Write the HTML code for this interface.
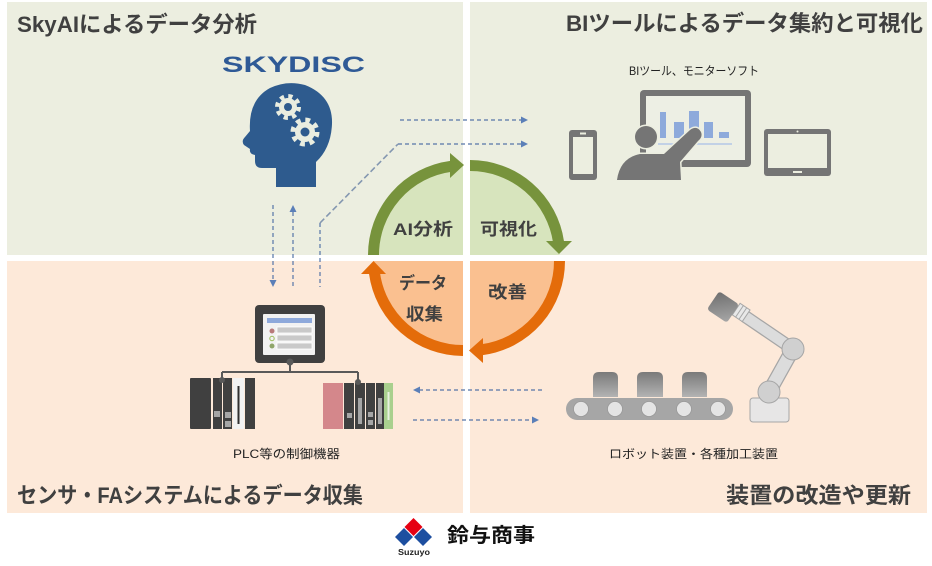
<!DOCTYPE html>
<html><head><meta charset="utf-8">
<style>
html,body{margin:0;padding:0;background:#fff;}
svg{display:block;}
text{font-family:"Liberation Sans","Noto Sans CJK JP",sans-serif;}
</style></head>
<body>
<svg width="932" height="566" viewBox="0 0 932 566" xmlns="http://www.w3.org/2000/svg">
<defs>
<linearGradient id="box" x1="0" y1="0" x2="0" y2="1">
<stop offset="0" stop-color="#7a7a7a"/><stop offset="1" stop-color="#b3b3b3"/>
</linearGradient>
<linearGradient id="grip" x1="0" y1="0" x2="1" y2="1">
<stop offset="0" stop-color="#6e6e6e"/><stop offset="1" stop-color="#a8a8a8"/>
</linearGradient>
</defs>
<rect width="932" height="566" fill="#fff"/>
<!-- panels -->
<rect x="7" y="2" width="456" height="253" fill="#ECEEE0"/>
<rect x="470" y="2" width="457" height="253" fill="#ECEEE0"/>
<rect x="7" y="261" width="456" height="252" fill="#FDE9D9"/>
<rect x="470" y="261" width="457" height="252" fill="#FDE9D9"/>

<!-- titles -->
<text x="17" y="32" font-size="22" font-weight="bold" fill="#404040" textLength="240" lengthAdjust="spacingAndGlyphs">SkyAIによるデータ分析</text>
<text x="566" y="31" font-size="22" font-weight="bold" fill="#404040" textLength="357" lengthAdjust="spacingAndGlyphs">BIツールによるデータ集約と可視化</text>
<text x="17" y="503" font-size="22" font-weight="bold" fill="#404040" textLength="346" lengthAdjust="spacingAndGlyphs">センサ・FAシステムによるデータ収集</text>
<text x="726" y="503" font-size="22" font-weight="bold" fill="#404040" textLength="185" lengthAdjust="spacingAndGlyphs">装置の改造や更新</text>

<!-- small labels -->
<text x="629" y="75" font-size="12" fill="#222" textLength="130" lengthAdjust="spacingAndGlyphs">BIツール、モニターソフト</text>
<text x="233" y="458" font-size="12" fill="#222" textLength="107" lengthAdjust="spacingAndGlyphs">PLC等の制御機器</text>
<text x="609" y="458" font-size="12" fill="#222" textLength="169" lengthAdjust="spacingAndGlyphs">ロボット装置・各種加工装置</text>

<!-- SKYDISC logo -->
<text x="222" y="72" font-size="22" font-weight="bold" fill="#2F5A96" textLength="143" lengthAdjust="spacingAndGlyphs">SKYDISC</text>

<!-- head -->
<path d="M276 187 L276 168 L262 168 Q255 168 255 161 L255 155 Q249 154 250 149 L244 145 Q241 141 245 137 L250 131 Q248 100 270 88 Q287 80 305 85 Q333 96 332 124 Q331 148 316 162 L316 187 Z" fill="#2E5B8E"/>
<g fill="#E9EDE0">
<circle cx="288" cy="107" r="9"/>
<circle cx="288" cy="107" r="10.5" fill="none" stroke="#E9EDE0" stroke-width="5" stroke-dasharray="4.12 4.12"/>
<circle cx="305" cy="132" r="10"/>
<circle cx="305" cy="132" r="12" fill="none" stroke="#E9EDE0" stroke-width="5" stroke-dasharray="4.71 4.71"/>
</g>
<circle cx="288" cy="107" r="4" fill="#2E5B8E"/>
<circle cx="305" cy="132" r="4.5" fill="#2E5B8E"/>

<!-- dashed connectors -->
<g fill="none" stroke="#5575A8" stroke-width="1.2" stroke-dasharray="4 3">
<line x1="400" y1="120" x2="522" y2="120"/>
<line x1="398" y1="144" x2="522" y2="144"/>
<line x1="273" y1="205" x2="273" y2="280"/>
<line x1="293" y1="212" x2="293" y2="287"/>
<line x1="320" y1="223" x2="320" y2="287"/>
<line x1="419" y1="390" x2="543" y2="390"/>
<line x1="413" y1="420" x2="533" y2="420"/>
</g>
<line x1="320" y1="223" x2="398" y2="144" stroke="#8497B0" stroke-width="1.6" stroke-dasharray="6 3"/>
<g fill="#5B7FB8">
<polygon points="528,120 521,116.5 521,123.5"/>
<polygon points="528,144 521,140.5 521,147.5"/>
<polygon points="273,287 269.5,280 276.5,280"/>
<polygon points="293,205 289.5,212 296.5,212"/>
<polygon points="413,390 420,386.5 420,393.5"/>
<polygon points="539,420 532,416.5 532,423.5"/>
</g>

<!-- cycle fills -->
<path d="M463 255 L373.5 255 A89.5 89.5 0 0 1 463 165.5 Z" fill="#D7E4BD"/>
<path d="M470 255 L470 165.5 A89.5 89.5 0 0 1 559.5 255 Z" fill="#D7E4BD"/>
<path d="M470 261 L559.5 261 A89.5 89.5 0 0 1 470 350.5 Z" fill="#FAC090"/>
<path d="M463 261 L463 350.5 A89.5 89.5 0 0 1 373.5 261 Z" fill="#FAC090"/>
<!-- cycle arcs -->
<g fill="none" stroke-width="11">
<path d="M373.5 255 A89.5 89.5 0 0 1 451 166.3" stroke="#77933C"/>
<path d="M470 165.5 A89.5 89.5 0 0 1 558.55 242" stroke="#77933C"/>
<path d="M559.5 261 A89.5 89.5 0 0 1 482 349.7" stroke="#E46C0A"/>
<path d="M463 350.5 A89.5 89.5 0 0 1 374.45 273" stroke="#E46C0A"/>
</g>
<polygon points="464,165 450,153 450,178" fill="#77933C"/>
<polygon points="559,254 546,241 572,241" fill="#77933C"/>
<polygon points="469,350.5 483,338 483,363" fill="#E46C0A"/>
<polygon points="373.5,261 361,274 386,274" fill="#E46C0A"/>
<g font-weight="bold" fill="#404040" font-size="17">
<text x="393" y="235" textLength="60" lengthAdjust="spacingAndGlyphs">AI分析</text>
<text x="480" y="235" textLength="57" lengthAdjust="spacingAndGlyphs">可視化</text>
<text x="399" y="289" textLength="48" lengthAdjust="spacingAndGlyphs">データ</text>
<text x="406" y="320" textLength="37" lengthAdjust="spacingAndGlyphs">収集</text>
<text x="488" y="298" textLength="39" lengthAdjust="spacingAndGlyphs">改善</text>
</g>

<!-- BI devices -->
<rect x="569" y="130" width="28" height="50" rx="3" fill="#757575"/>
<rect x="573" y="137" width="20" height="37" fill="#ECEEE0"/>
<rect x="580" y="132.5" width="6" height="2" fill="#ECEEE0"/>
<rect x="640" y="90" width="111" height="77" rx="4" fill="#757575"/>
<rect x="646" y="96" width="99" height="64" fill="#EDEFE4"/>
<g fill="#8EAADB">
<rect x="660" y="112" width="6" height="26"/>
<rect x="674" y="122" width="10" height="16"/>
<rect x="689" y="111" width="10" height="27"/>
<rect x="704" y="122" width="9" height="16"/>
<rect x="719" y="132" width="10" height="6"/>
</g>
<line x1="658" y1="144" x2="732" y2="144" stroke="#B4C7E7" stroke-width="1.5"/>
<path d="M617 180 Q620 158 640 154 L664 154 L690 130 Q697 125 701 132 Q703 137 698 141 L680 162 L681 180 Z" fill="#757575" stroke="#ECEEE0" stroke-width="3" paint-order="stroke"/>
<circle cx="646" cy="137" r="11" fill="#757575" stroke="#ECEEE0" stroke-width="3" paint-order="stroke"/>
<rect x="764" y="129" width="67" height="47" rx="3" fill="#757575"/>
<rect x="768" y="134" width="59" height="34" fill="#ECEEE0"/>
<rect x="793" y="171" width="9" height="2" fill="#ECEEE0"/>
<circle cx="797.5" cy="131.5" r="1" fill="#ECEEE0"/>

<!-- HMI -->
<rect x="255" y="305" width="70" height="58" rx="4" fill="#404040"/>
<rect x="263" y="314" width="52" height="41" rx="1" fill="#F2F2F2"/>
<rect x="267" y="318" width="45" height="5" fill="#8EA9DB"/>
<circle cx="272" cy="331" r="2.5" fill="#B87A7A"/>
<circle cx="272" cy="338.5" r="2.2" fill="none" stroke="#9BBB59" stroke-width="1"/>
<circle cx="272" cy="346" r="2.5" fill="#8FA56A"/>
<g fill="#C9C9C9" stroke="#fff" stroke-width="0.8">
<rect x="277" y="327" width="35" height="6"/>
<rect x="277" y="335" width="35" height="6"/>
<rect x="277" y="343" width="35" height="6"/>
</g>
<g stroke="#595959" stroke-width="2" fill="none">
<line x1="290" y1="363" x2="290" y2="372"/>
<line x1="222" y1="372" x2="358" y2="372"/>
<line x1="222" y1="372" x2="222" y2="380"/>
<line x1="358" y1="372" x2="358" y2="382"/>
</g>
<circle cx="290" cy="362" r="3.5" fill="#595959"/>
<!-- left PLC -->
<g fill="#404040">
<rect x="190" y="378" width="21" height="51" rx="1"/>
<rect x="213" y="378" width="9" height="51"/>
<rect x="223" y="378" width="9" height="51"/>
<rect x="245" y="378" width="10" height="51"/>
</g>
<rect x="233" y="378" width="11" height="51" fill="#F2F2F2"/>
<rect x="237.5" y="386" width="2" height="38" fill="#303030"/>
<g fill="#A6A6A6">
<rect x="214" y="411" width="6" height="6"/>
<rect x="225" y="412" width="6" height="6"/>
<rect x="225" y="421" width="6" height="6"/>
</g>
<circle cx="222" cy="380" r="3" fill="#595959"/>
<!-- right PLC -->
<rect x="323" y="383" width="20" height="46" fill="#D4878B"/>
<g fill="#404040">
<rect x="344" y="383" width="10" height="46"/>
<rect x="355" y="383" width="10" height="46"/>
<rect x="366" y="383" width="9" height="46"/>
<rect x="376" y="383" width="8" height="46"/>
</g>
<rect x="384" y="383" width="9" height="46" fill="#A9D08E"/>
<rect x="387.5" y="392" width="2" height="28" fill="#E8F2DF"/>
<g fill="#A6A6A6">
<rect x="347" y="413" width="5" height="5"/>
<rect x="358" y="398" width="4" height="26"/>
<rect x="368" y="412" width="5" height="5"/>
<rect x="368" y="420" width="5" height="5"/>
<rect x="378" y="398" width="4" height="26"/>
</g>
<circle cx="358" cy="382" r="3" fill="#595959"/>

<!-- conveyor -->
<path d="M593 397 L593 378 Q593 372 599 372 L612 372 Q618 372 618 378 L618 397 Z" fill="url(#box)"/>
<path d="M637 397 L637 378 Q637 372 643 372 L657 372 Q663 372 663 378 L663 397 Z" fill="url(#box)"/>
<path d="M682 397 L682 378 Q682 372 688 372 L701 372 Q707 372 707 378 L707 397 Z" fill="url(#box)"/>
<rect x="566" y="398" width="167" height="22" rx="11" fill="#A6A6A6"/>
<g fill="#E4E4E4" stroke="#999" stroke-width="0.8">
<circle cx="581" cy="409" r="7.5"/>
<circle cx="615" cy="409" r="7.5"/>
<circle cx="649" cy="409" r="7.5"/>
<circle cx="684" cy="409" r="7.5"/>
<circle cx="718" cy="409" r="7.5"/>
</g>
<!-- robot -->
<rect x="750" y="398" width="39" height="24" rx="3" fill="#E7E6E6" stroke="#A6A6A6" stroke-width="1"/>
<line x1="769" y1="392" x2="793" y2="349" stroke="#A6A6A6" stroke-width="15" stroke-linecap="round"/>
<line x1="769" y1="392" x2="793" y2="349" stroke="#DCDCDC" stroke-width="12.5" stroke-linecap="round"/>
<line x1="793" y1="349" x2="746" y2="317" stroke="#A6A6A6" stroke-width="13" stroke-linecap="round"/>
<line x1="793" y1="349" x2="746" y2="317" stroke="#DCDCDC" stroke-width="10.5" stroke-linecap="round"/>
<g transform="rotate(34 742 313)">
<rect x="735" y="306" width="12" height="14" fill="#E8E8E8" stroke="#A6A6A6" stroke-width="1"/>
<line x1="739" y1="306" x2="739" y2="320" stroke="#A6A6A6" stroke-width="1"/>
<line x1="743" y1="306" x2="743" y2="320" stroke="#A6A6A6" stroke-width="1"/>
</g>
<rect x="711" y="296" width="24" height="22" rx="3" fill="url(#grip)" transform="rotate(34 723 307)"/>
<circle cx="769" cy="392" r="11" fill="#D0D0D0" stroke="#A6A6A6" stroke-width="1"/>
<circle cx="793" cy="349" r="11" fill="#D0D0D0" stroke="#A6A6A6" stroke-width="1"/>

<!-- Suzuyo logo -->
<polygon points="413.5,518 422.5,527 413.5,536 404.5,527" fill="#E60012"/>
<polygon points="404,528 413,537 404,546 395,537" fill="#1D4FA0"/>
<polygon points="423,528 432,537 423,546 414,537" fill="#1D4FA0"/>
<text x="398" y="555" font-size="8" font-weight="bold" fill="#222" textLength="32" lengthAdjust="spacingAndGlyphs">Suzuyo</text>
<text x="447" y="542" font-size="20" font-weight="bold" fill="#111" textLength="88" lengthAdjust="spacingAndGlyphs">鈴与商事</text>
</svg>
</body></html>
